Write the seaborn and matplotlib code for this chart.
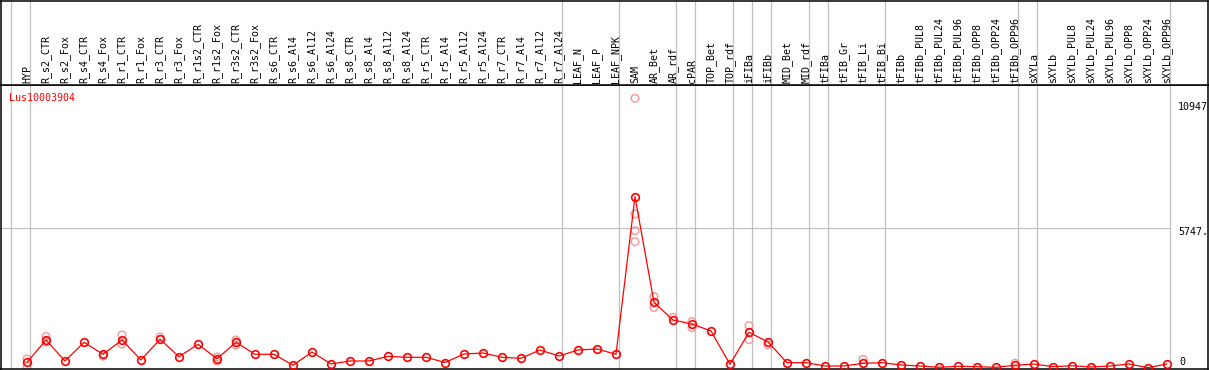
#grafico de expressao do gene Lus10003904 por tecido

import numpy as np
import matplotlib
matplotlib.use('Agg')
import matplotlib.pyplot as plt
import seaborn as sns

# dados
amostras = ['HYP', 'R_s2_CTR', 'R_s2_Fox', 'R_s4_CTR', 'R_s4_Fox', 'R_r1_CTR', 'R_r1_Fox',
            'R_r3_CTR', 'R_r3_Fox', 'R_r1s2_CTR', 'R_r1s2_Fox', 'R_r3s2_CTR', 'R_r3s2_Fox',
            'R_s6_CTR', 'R_s6_Al4', 'R_s6_Al12', 'R_s6_Al24', 'R_s8_CTR', 'R_s8_Al4',
            'R_s8_Al12', 'R_s8_Al24', 'R_r5_CTR', 'R_r5_Al4', 'R_r5_Al12', 'R_r5_Al24',
            'R_r7_CTR', 'R_r7_Al4', 'R_r7_Al12', 'R_r7_Al24', 'LEAF_N', 'LEAF_P', 'LEAF_NPK',
            'SAM', 'AR_Bet', 'AR_rdf', 'cPAR', 'TOP_Bet', 'TOP_rdf', 'iFIBa', 'iFIBb',
            'MID_Bet', 'MID_rdf', 'tFIBa', 'tFIB_Gr', 'tFIB_Li', 'tFIB_Bi', 'tFIBb',
            'tFIBb_PUL8', 'tFIBb_PUL24', 'tFIBb_PUL96', 'tFIBb_OPP8', 'tFIBb_OPP24',
            'tFIBb_OPP96', 'sXYLa', 'sXYLb', 'sXYLb_PUL8', 'sXYLb_PUL24', 'sXYLb_PUL96',
            'sXYLb_OPP8', 'sXYLb_OPP24', 'sXYLb_OPP96']

medias = [388, 1280, 440, 1188, 708, 1280, 480, 1308, 612, 1108, 532, 1188, 708,
          708, 268, 800, 320, 440, 440, 628, 588, 588, 380, 720, 760,
          588, 548, 880, 640, 880, 920, 708,
          7012, 2788, 2080, 1920, 1640, 308, 1588, 1200,
          372, 372, 240, 240, 348, 372, 280,
          240, 188, 228, 212, 188, 268, 320, 212, 252, 200, 240, 320, 172, 320]

# replicas visiveis (indice da amostra, valor)
rep_idx = [0, 0, 1, 1, 4, 5, 5, 7, 10, 10, 11, 11,
           32, 32, 32, 32, 33, 33, 34, 35, 35, 38, 38, 39, 44, 52]
rep_val = [520, 240, 1420, 1200, 640, 1480, 1120, 1400, 600, 440, 1280, 1080,
           10948, 6320, 5652, 5212, 3012, 2580, 2188, 2012, 1772, 1852, 1292, 1080, 508, 348]

# ultimo indice de cada grupo (linhas cinzas separadoras)
fim_grupos = [-1, 0, 28, 31, 34, 35, 37, 38, 39, 41, 42, 45, 52, 53, 60]

nome_gene = 'Lus10003904'
max_label = '10947'
mid_label = '5747.'
mid_valor = 5747.5

sns.set_style("white")
plt.rcParams['font.family'] = ['DejaVu Sans Mono', 'DejaVu Sans']

W, H = 1209, 370
fig = plt.figure(figsize=(W / 100, H / 100), dpi=100)

# conversao pixel -> coordenadas
def px_x(p):
    return (p - 27) / 19.0

def px_v(p):
    return 40.0 * (372 - p)

y_header = 85.3
ax = fig.add_axes([0.5 / W, (H - 369) / H, 1207.5 / W, (369 - y_header) / H])
axh = fig.add_axes([0.5 / W, (H - y_header) / H, 1207.5 / W, (y_header - 0.5) / H])

xlim = (px_x(0.5), px_x(1208))
ax.set_xlim(xlim)
ax.set_ylim(px_v(369), px_v(y_header))
axh.set_xlim(xlim)
axh.set_ylim(0, 1)

for a in (ax, axh):
    a.set_xticks([])
    a.set_yticks([])
    a.set_facecolor('white')
    for s in a.spines.values():
        s.set_visible(True)
        s.set_color('black')
        s.set_linewidth(1.1)
    for g in fim_grupos:
        a.axvline(g + 0.16, color='#c0c0c0', lw=0.9, zorder=1)

ax.hlines(mid_valor, xlim[0], 60.16, color='#c0c0c0', lw=0.9, zorder=1)

x = np.arange(len(amostras))

# replicas em rosa claro
sns.scatterplot(x=rep_idx, y=rep_val, ax=ax, marker='o', s=30, facecolor='none',
                edgecolor='#f0a0a0', linewidth=1.1, zorder=2, legend=False)

# media em vermelho
sns.lineplot(x=x, y=medias, ax=ax, color='red', lw=0.9, marker='o', ms=5.5,
             mfc='none', mec='red', mew=1.2, zorder=3, legend=False)
ax.set_xlabel('')
ax.set_ylabel('')

# rotulos das amostras no cabecalho
for i, nome in enumerate(amostras):
    axh.text(i, 0.027, nome, rotation=90, ha='center', va='bottom', fontsize=7.2, color='black')

ax.text(px_x(9), px_v(97.7), nome_gene, color='red', fontsize=7.2, ha='left', va='center')
ax.text(px_x(1178), px_v(107), max_label, color='black', fontsize=7.2, ha='left', va='center')
ax.text(px_x(1178), px_v(232), mid_label, color='black', fontsize=7.2, ha='left', va='center')
ax.text(px_x(1179), px_v(362), '0', color='black', fontsize=7.2, ha='left', va='center')

plt.savefig('out.png', dpi=100)
